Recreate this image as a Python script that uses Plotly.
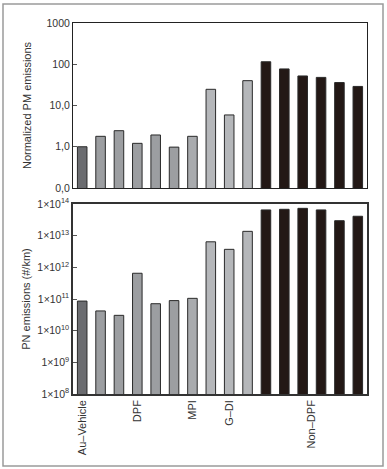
import plotly.graph_objects as go

# ---- data ----
vehicles = list(range(16))
pm_values = [1.0, 1.79, 2.45, 1.21, 1.93, 0.98, 1.79, 24.7, 5.9, 40, 115, 77, 52, 48, 36, 29]
pn_values = [8.6e10, 4.2e10, 3.05e10, 6.5e11, 7.1e10, 8.9e10, 1.05e11, 6.4e12, 3.7e12,
             1.37e13, 6.5e13, 6.8e13, 7.3e13, 6.5e13, 2.97e13, 4.1e13]
group_names = ["Au–Vehicle", "DPF", "MPI", "G–DI", "Non–DPF"]
group_pos = [0, 3, 6, 8, 12.5]
pm_tickvals = [0.1, 1, 10, 100, 1000]
pm_ticktext = ["0,0", "1,0", "10,0", "100", "1000"]
pn_exps = [8, 9, 10, 11, 12, 13, 14]

bar_colors = ["#6b6c70"] + ["#9c9ea1"] * 5 + ["#a9abae"] + ["#b5b7ba"] * 3 + ["#231815"] * 6

FONT = "Liberation Sans, Arial, sans-serif"
TXT = "#333333"

fig = go.Figure()
fig.add_trace(go.Bar(x=vehicles, y=pm_values, marker=dict(color=bar_colors, line=dict(color="#2a2a2a", width=1)),
                     width=0.52, xaxis="x", yaxis="y", showlegend=False))
fig.add_trace(go.Bar(x=vehicles, y=pn_values, marker=dict(color=bar_colors, line=dict(color="#2a2a2a", width=1)),
                     width=0.52, xaxis="x2", yaxis="y2", showlegend=False))

L, R, T, B = 73, 20, 23, 75
W, H = 387, 469
ph = H - T - B
pw = W - L - R

def py(pix):
    return (H - B - pix) / ph

def px(pix):
    return (pix - L) / pw

fig.update_layout(
    width=W, height=H,
    margin=dict(l=L, r=R, t=T, b=B, autoexpand=False),
    paper_bgcolor="white", plot_bgcolor="white",
    font=dict(family=FONT, size=10, color=TXT),
    bargap=0.4,
    xaxis=dict(domain=[0, 1], range=[-0.5, 15.5], showticklabels=False, ticks="",
               showline=True, linecolor="#222222", linewidth=1, mirror=True, automargin=False,
               showgrid=False, zeroline=False, anchor="y"),
    yaxis=dict(domain=[py(188), 1], type="log", range=[-1, 3], tickvals=pm_tickvals, ticktext=pm_ticktext,
               ticks="inside", ticklen=4, tickcolor="#555555", showline=True, linecolor="#222222",
               linewidth=1, mirror=True, showgrid=False, zeroline=False, anchor="x", automargin=False,
               tickfont=dict(size=10.5, color=TXT),
               title=dict(text="Normalized PM emissions", font=dict(size=11, color=TXT), standoff=12)),
    xaxis2=dict(domain=[0, 1], range=[-0.5, 15.5], tickvals=group_pos, ticktext=group_names,
                tickangle=-90, ticks="", showline=True, linecolor="#333333", linewidth=1.5, mirror=True,
                showgrid=False, zeroline=False, anchor="y2", automargin=False,
                tickfont=dict(size=11, color=TXT)),
    yaxis2=dict(domain=[0, py(204)], type="log", range=[8, 14],
                tickvals=[10 ** e for e in pn_exps],
                ticktext=["1×10<sup>%d</sup>" % e for e in pn_exps],
                ticks="inside", ticklen=4, tickcolor="#555555", showline=True, linecolor="#333333",
                linewidth=1.5, mirror=True, showgrid=False, zeroline=False, anchor="x2", automargin=False,
                tickfont=dict(size=10.5, color=TXT),
                title=dict(text="PN emissions (#/km)", font=dict(size=11, color=TXT), standoff=4)),
    shapes=[dict(type="rect", xref="paper", yref="paper", x0=px(3), x1=px(383), y0=py(466), y1=py(4),
                 line=dict(color="#9a9a9a", width=1.5), fillcolor="rgba(0,0,0,0)", layer="below")],
)

fig.write_html("out.html", config={"displayModeBar": False},
               post_script="document.body.style.margin='0';document.body.style.overflow='hidden';")
